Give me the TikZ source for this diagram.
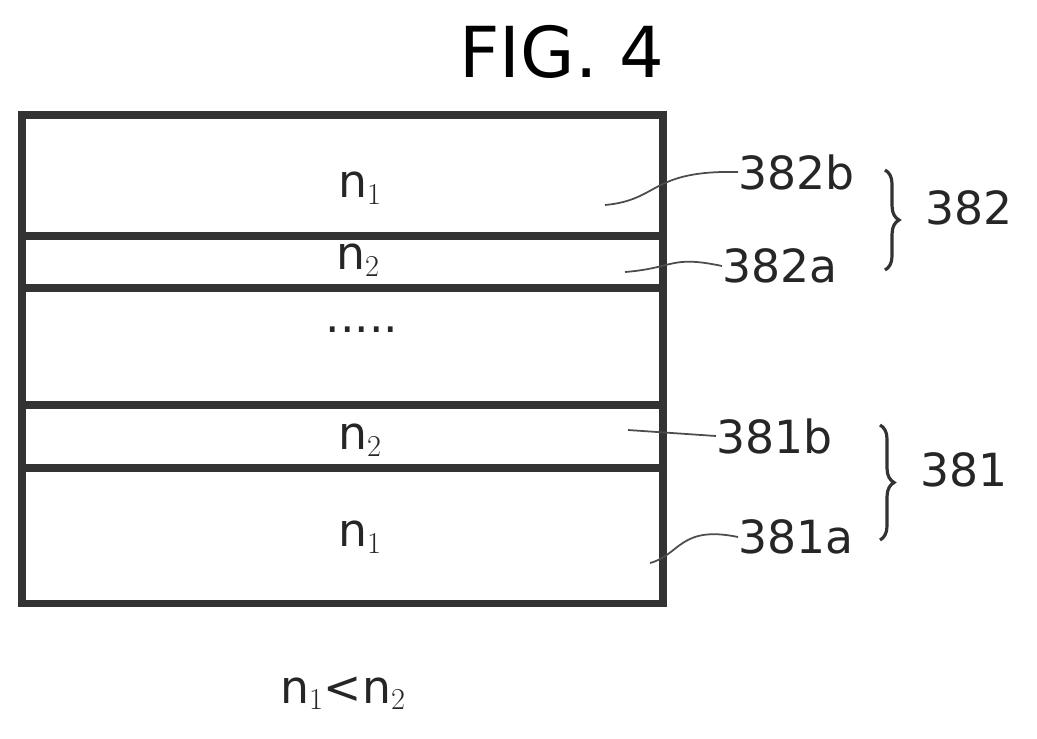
\documentclass[tikz,border=0pt]{standalone}
\usepackage{fontspec}
\setmainfont{DejaVu Sans}
\usetikzlibrary{decorations.pathreplacing}
\begin{document}
\begin{tikzpicture}[x=0.02cm,y=-0.02cm]
\tikzstyle{layer} = [draw=black!80,line width=4pt];
\tikzstyle{lbl} = [inner sep=0,font=\fontsize{26}{30}\selectfont\color{black!85}];
\tikzstyle{leader} = [black!70,line width=1pt];
\tikzstyle{brace} = [decorate,decoration={brace,amplitude=8pt},line width=1.8pt,black!80];

\useasboundingbox (0,0) rectangle (1037,738);
\node[inner sep=0,font=\fontsize{40}{44}\selectfont] (fig) at (562,52) {FIG. 4};

% layers
\draw[layer] (22,115) rectangle (663,603);
\foreach \y in {236,288,405,468}
  \draw[layer] (22,\y) -- (663,\y);

\node[lbl] (t1) at (360,188) {n$_1$};
\node[lbl] (t2) at (358,260) {n$_2$};
\node[lbl] (t3) at (362,330) {.....};
\node[lbl] (t4) at (360,440) {n$_2$};
\node[lbl] (t5) at (360,537) {n$_1$};

% reference labels
\node[lbl,anchor=west] (l382b) at (738,172) {382b};
\node[lbl,anchor=west] (l382a) at (722,266) {382a};
\node[lbl,anchor=west] (l381b) at (716,436) {381b};
\node[lbl,anchor=west] (l381a) at (738,537) {381a};
\coordinate (p382b) at (605,205);
\coordinate (p382a) at (625,272);
\coordinate (p381b) at (628,430);
\coordinate (p381a) at (650,563);
\draw[leader] (p382b) .. controls (660,200) and (650,170) .. (l382b.west);
\draw[leader] (p382a) .. controls (675,268) and (670,255) .. (l382a.west);
\draw[leader] (p381b) -- (l381b.west);
\draw[leader] (p381a) .. controls (680,555) and (680,525) .. (l381a.west);

% groups
\draw[brace] (885,170) -- (885,270);
\draw[brace] (880,425) -- (880,540);
\node[lbl,anchor=west] (g382) at (925,208) {382};
\node[lbl,anchor=west] (g381) at (920,470) {381};

\node[lbl] (rel) at (343,693) {n$_1$<n$_2$};
\end{tikzpicture}
\end{document}
